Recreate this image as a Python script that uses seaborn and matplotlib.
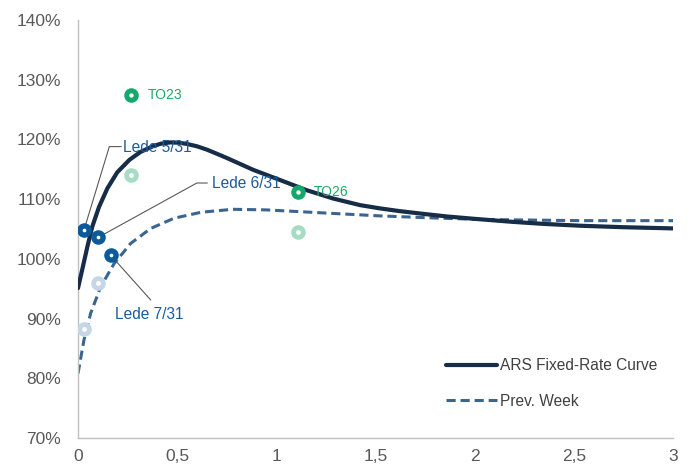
import matplotlib
matplotlib.use("Agg")
import matplotlib.pyplot as plt
import seaborn as sns
import pandas as pd

# Yield curve, current week (x: years to maturity, y: rate in %)
curve_x = [0.0, 0.022, 0.047, 0.072, 0.106, 0.148, 0.198, 0.26, 0.315, 0.38,
           0.42, 0.464, 0.51, 0.548, 0.60, 0.649, 0.70, 0.75, 0.884, 1.019,
           1.153, 1.287, 1.422, 1.523, 1.62, 1.75, 1.86, 2.0, 2.19, 2.35,
           2.53, 2.75, 3.0]
curve_y = [95.1, 98.3, 102.0, 105.4, 108.7, 111.8, 114.5, 116.6, 117.9, 118.9,
           119.3, 119.5, 119.45, 119.25, 118.85, 118.3, 117.6, 116.9, 114.9, 113.2,
           111.5, 110.1, 109.0, 108.45, 108.0, 107.5, 107.1, 106.7, 106.2, 105.85,
           105.55, 105.3, 105.1]

# Yield curve, previous week
prev_x = [0.0, 0.03, 0.064, 0.114, 0.182, 0.266, 0.367, 0.484, 0.62, 0.78,
          0.95, 1.12, 1.29, 1.52, 1.75, 2.03, 2.53, 3.0]
prev_y = [80.8, 86.4, 90.9, 95.3, 99.2, 102.6, 105.1, 106.8, 107.8, 108.3,
          108.2, 107.9, 107.6, 107.2, 106.9, 106.6, 106.4, 106.4]

# Bonds
lede_names = ["Lede 5/31", "Lede 6/31", "Lede 7/31"]
lede_x = [0.030, 0.102, 0.165]
lede_y = [104.8, 103.6, 100.6]
lede_prev_x = [0.030, 0.102]
lede_prev_y = [88.2, 95.9]

to_names = ["TO23", "TO26"]
to_x = [0.269, 1.108]
to_y = [127.5, 111.2]
to_prev_x = [0.269, 1.108]
to_prev_y = [114.0, 104.5]

x_ticks = [0, 0.5, 1, 1.5, 2, 2.5, 3]
x_tick_labels = ["0", "0,5", "1", "1,5", "2", "2,5", "3"]
y_ticks = [70, 80, 90, 100, 110, 120, 130, 140]

sns.set_style("white")
plt.rcParams["font.family"] = ["Liberation Sans", "DejaVu Sans"]

NAVY = "#172c47"
DASH = "#3b6591"
LEDE = "#0d5a9b"
LEDE_LIGHT = "#c5d7e6"
GREEN = "#14a86b"
GREEN_LIGHT = "#a6dcc3"
LBL_BLUE = "#1d5b99"
LBL_GREEN = "#1caa6a"
GRAY_TXT = "#595959"
AXIS = "#bfbfbf"

fig = plt.figure(figsize=(6.89, 4.70), dpi=100)
ax = fig.add_axes([78 / 689, 1 - 438 / 470, (673 - 78) / 689, (438 - 20) / 470])

cur = pd.DataFrame({"x": curve_x, "y": curve_y})
prv = pd.DataFrame({"x": prev_x, "y": prev_y})

sns.lineplot(data=cur, x="x", y="y", ax=ax, color=NAVY, lw=3.0,
             label="ARS Fixed-Rate Curve", sort=False, zorder=3)
sns.lineplot(data=prv, x="x", y="y", ax=ax, color=DASH, lw=2.2,
             label="Prev. Week", sort=False, zorder=2,
             linestyle=(0, (3.0, 1.6)))
for ln in ax.get_lines():
    ln.set_solid_joinstyle("round")
    ln.set_dash_joinstyle("round")


def rings(xs, ys, color, inner, z):
    df = pd.DataFrame({"x": xs, "y": ys})
    sns.scatterplot(data=df, x="x", y="y", ax=ax, color=color, s=110,
                    linewidth=0, zorder=z, legend=False)
    sns.scatterplot(data=df, x="x", y="y", ax=ax, color="white", s=inner,
                    linewidth=0, zorder=z + 0.1, legend=False)


rings(lede_prev_x, lede_prev_y, LEDE_LIGHT, 12, 4)
rings(to_prev_x, to_prev_y, GREEN_LIGHT, 12, 4)
rings(lede_x, lede_y, LEDE, 7, 5)
rings(to_x, to_y, GREEN, 10, 5)

# Leader-line labels for the Lede bonds
lede_text_pos = [(0.228, 118.6), (0.674, 112.6), (0.187, 90.6)]
leader_paths = [
    ([0.158, 0.218], [118.8, 118.8]),
    ([0.599, 0.652], [112.7, 112.7]),
    ([0.367], [93.1]),
]
for name, px, py, (tx, ty), (lx, ly) in zip(lede_names, lede_x, lede_y,
                                             lede_text_pos, leader_paths):
    ax.plot([px] + lx, [py] + ly, color=GRAY_TXT, lw=0.8, zorder=4.5)
    ax.text(tx, ty, name, color=LBL_BLUE, fontsize=11.2,
            ha="left", va="center", zorder=6)

for name, px, py in zip(to_names, to_x, to_y):
    ax.text(px + 0.082, py, name, color=LBL_GREEN, fontsize=10,
            ha="left", va="center", zorder=6)

ax.set_xlim(0, 3)
ax.set_ylim(70, 140)
ax.set_xticks(x_ticks)
ax.set_xticklabels(x_tick_labels)
ax.set_yticks(y_ticks)
ax.set_yticklabels([f"{v}%" for v in y_ticks])
ax.set_xlabel("")
ax.set_ylabel("")

for side in ("top", "right"):
    ax.spines[side].set_visible(False)
for side in ("left", "bottom"):
    ax.spines[side].set_color(AXIS)
    ax.spines[side].set_linewidth(1.0)
ax.tick_params(axis="both", which="major", direction="out", length=5,
               width=1.0, color=AXIS, labelcolor=GRAY_TXT, labelsize=12.5)
ax.tick_params(axis="x", pad=3)
ax.tick_params(axis="y", pad=7)

leg = ax.legend(loc="upper left", bbox_to_anchor=(0.595, 0.224),
                frameon=False, fontsize=11.2, handlelength=3.3,
                handletextpad=0.15, labelspacing=1.3)
for t in leg.get_texts():
    t.set_color("#404040")

fig.savefig("out.png", dpi=100)
